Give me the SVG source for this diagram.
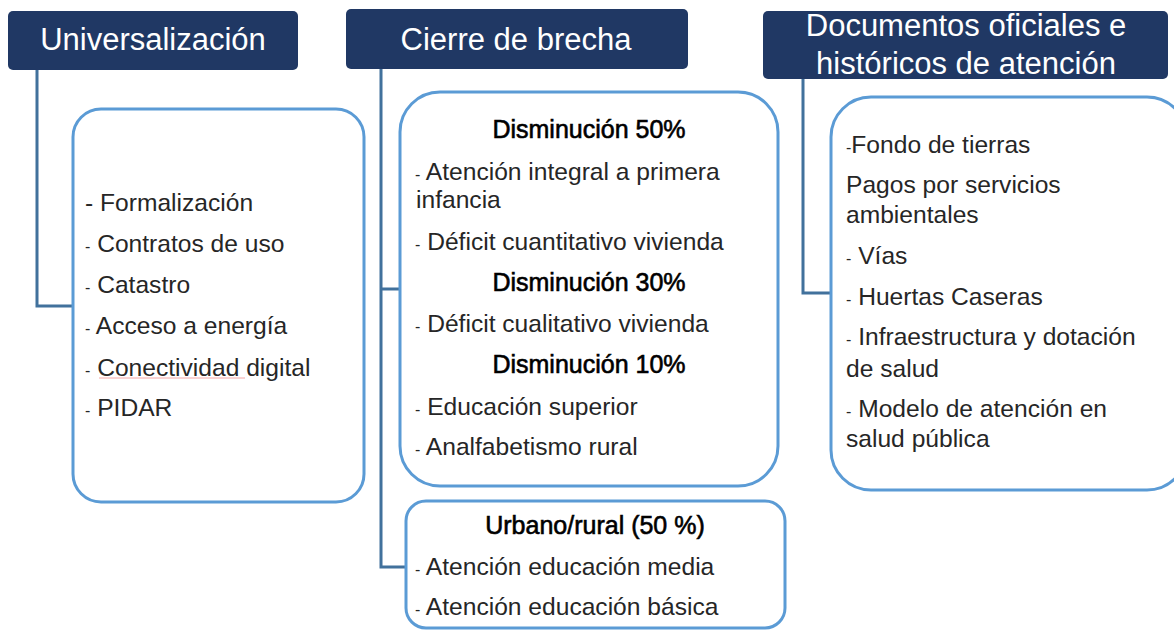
<svg xmlns="http://www.w3.org/2000/svg" width="1174" height="631" viewBox="0 0 1174 631">
<style>
.hdr{fill:#203864;}
.htxt{fill:#ffffff;font-family:"Liberation Sans",Arial,sans-serif;font-size:31px;text-anchor:middle;}
.box{fill:#ffffff;stroke:#5b9bd5;stroke-width:3;}
.t{fill:#262626;font-family:"Liberation Sans",Arial,sans-serif;font-size:24.6px;}
.d{font-size:16px;}
.h{fill:#000000;stroke:#000000;stroke-width:0.6;font-family:"Liberation Sans",Arial,sans-serif;font-size:25px;text-anchor:middle;}
.con{fill:none;stroke:#41719c;stroke-width:3;}
</style>
<rect width="1174" height="631" fill="#ffffff"/>
<g id="connectors">
<polyline class="con" points="37,70 37,306 73,306"/>
<polyline class="con" points="381,69 381,567 406,567"/>
<line class="con" x1="381" y1="289" x2="400" y2="289"/>
<polyline class="con" points="803,79 803,293 831,293"/>
</g>
<g id="h-universalizacion">
<rect class="hdr" x="8" y="11" width="290" height="59" rx="5"/>
<text class="htxt" x="153" y="50">Universalización</text>
</g>
<g id="h-cierre">
<rect class="hdr" x="346" y="9" width="342" height="60" rx="5"/>
<text class="htxt" x="516" y="50">Cierre de brecha</text>
</g>
<g id="h-documentos">
<rect class="hdr" x="763" y="11" width="405" height="68" rx="5"/>
<text class="htxt" x="966" y="36">Documentos oficiales e</text>
<text class="htxt" x="966" y="74">históricos de atención</text>
</g>
<g id="box-universalizacion">
<rect class="box" x="73" y="109" width="291" height="393" rx="28"/>
<text class="t" x="85" y="211"><tspan>-</tspan> Formalización</text>
<text class="t" x="85" y="252"><tspan class="d">-</tspan> Contratos de uso</text>
<text class="t" x="85" y="293"><tspan class="d">-</tspan> Catastro</text>
<text class="t" x="85" y="334"><tspan class="d">-</tspan> Acceso a energía</text>
<text class="t" x="85" y="376"><tspan class="d">-</tspan> Conectividad digital</text>
<line x1="99" y1="378" x2="245" y2="378" stroke="#f4a6a6" stroke-width="1"/>
<text class="t" x="85" y="416"><tspan class="d">-</tspan> PIDAR</text>
</g>
<g id="box-disminucion">
<rect class="box" x="400" y="92" width="378" height="394" rx="40"/>
<text class="h" x="589" y="138">Disminución 50%</text>
<text class="t" x="415" y="180"><tspan class="d">-</tspan> Atención integral a primera</text>
<text class="t" x="416" y="208">infancia</text>
<text class="t" x="415" y="250"><tspan class="d">-</tspan> Déficit cuantitativo vivienda</text>
<text class="h" x="589" y="291">Disminución 30%</text>
<text class="t" x="415" y="332"><tspan class="d">-</tspan> Déficit cualitativo vivienda</text>
<text class="h" x="589" y="373">Disminución 10%</text>
<text class="t" x="415" y="415"><tspan class="d">-</tspan> Educación superior</text>
<text class="t" x="415" y="455"><tspan class="d">-</tspan> Analfabetismo rural</text>
</g>
<g id="box-urbano">
<rect class="box" x="406" y="501" width="379" height="127" rx="20"/>
<text class="h" x="595" y="534">Urbano/rural (50 %)</text>
<text class="t" x="415" y="575"><tspan class="d">-</tspan> Atención educación media</text>
<text class="t" x="415" y="615"><tspan class="d">-</tspan> Atención educación básica</text>
</g>
<g id="box-documentos">
<rect class="box" x="831" y="97" width="356" height="393" rx="40"/>
<text class="t" x="846" y="153"><tspan class="d">-</tspan>Fondo de tierras</text>
<text class="t" x="846" y="193">Pagos por servicios</text>
<text class="t" x="846" y="223">ambientales</text>
<text class="t" x="846" y="264"><tspan class="d">-</tspan> Vías</text>
<text class="t" x="846" y="305"><tspan class="d">-</tspan> Huertas Caseras</text>
<text class="t" x="846" y="345"><tspan class="d">-</tspan> Infraestructura y dotación</text>
<text class="t" x="846" y="377">de salud</text>
<text class="t" x="846" y="417"><tspan class="d">-</tspan> Modelo de atención en</text>
<text class="t" x="846" y="447">salud pública</text>
</g>
</svg>
